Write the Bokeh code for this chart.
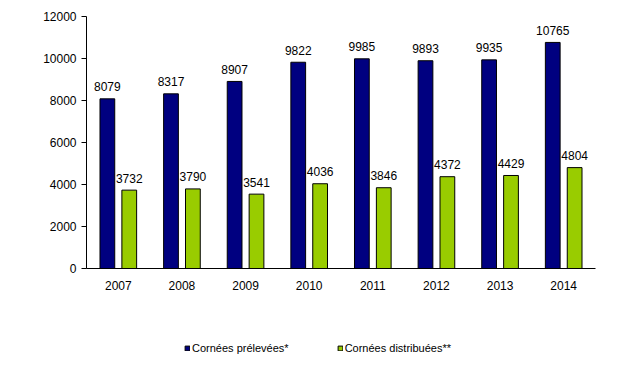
from bokeh.plotting import figure
from bokeh.models import Range1d, Label, Legend, LegendItem, ColumnDataSource
from bokeh.layouts import column
from bokeh.transform import dodge
from bokeh.core.properties import value
from bokeh.embed import file_html
from bokeh.resources import INLINE

years = ["2007", "2008", "2009", "2010", "2011", "2012", "2013", "2014"]
prelevees = [8079, 8317, 8907, 9822, 9985, 9893, 9935, 10765]
distribuees = [3732, 3790, 3541, 4036, 3846, 4372, 4429, 4804]
series_names = ["Cornées prélevées*", "Cornées distribuées**"]
y_ticks = [0, 2000, 4000, 6000, 8000, 10000, 12000]
colors = ["#000080", "#99CC00"]

src = ColumnDataSource(dict(year=years, a=prelevees, b=distribuees,
                            la=[str(v) for v in prelevees],
                            lb=[str(v) for v in distribuees]))

FONT = "Liberation Sans"

p = figure(x_range=years, y_range=Range1d(0, 12000), width=632, height=300,
           output_backend="svg", toolbar_location=None,
           min_border_left=86, min_border_right=37, min_border_top=16, min_border_bottom=32)
p.outline_line_color = None
p.xgrid.visible = False
p.ygrid.visible = False
p.x_range.range_padding = 0

off = 0.172
w = 0.232
p.vbar(x=dodge("year", -off, range=p.x_range), top="a", width=w, source=src,
       fill_color=colors[0], line_color="black", line_width=1)
p.vbar(x=dodge("year", off, range=p.x_range), top="b", width=w, source=src,
       fill_color=colors[1], line_color="black", line_width=1)

p.text(x=dodge("year", -off, range=p.x_range), y="a", text="la", source=src,
       text_align="center", text_baseline="alphabetic", y_offset=-12,
       text_font=value(FONT), text_font_size="12px", text_color="black")
p.text(x=dodge("year", off, range=p.x_range), y="b", text="lb", source=src,
       text_align="center", text_baseline="alphabetic", y_offset=-12,
       text_font=value(FONT), text_font_size="12px", text_color="black")

p.yaxis.ticker = y_ticks
p.yaxis.minor_tick_line_color = None
p.yaxis.major_tick_out = 5
p.yaxis.major_tick_in = 0
p.yaxis.major_label_text_font = FONT
p.yaxis.major_label_text_font_size = "12px"
p.yaxis.major_label_text_color = "black"
p.yaxis.axis_line_color = "black"
p.yaxis.major_tick_line_color = "black"

p.xaxis.major_tick_line_color = None
p.xaxis.major_tick_out = 0
p.xaxis.major_tick_in = 0
p.xaxis.major_label_standoff = 12
p.xaxis.major_label_text_font = FONT
p.xaxis.major_label_text_font_size = "12px"
p.xaxis.major_label_text_color = "black"
p.xaxis.axis_line_color = "black"

p.add_layout(Label(x=-56, y=6000, x_units="screen", y_units="data", text="N",
                   text_font=FONT, text_font_size="12px", text_color="black",
                   text_baseline="middle", text_align="left"))

# legend strip below the chart
lg = figure(width=632, height=90, x_range=Range1d(0, 1), y_range=Range1d(0, 1),
            output_backend="svg", toolbar_location=None,
            x_axis_type=None, y_axis_type=None, min_border=0)
lg.outline_line_color = None
lg.xgrid.visible = False
lg.ygrid.visible = False
r0 = lg.vbar(x=[0.5], top=[1], width=0.1, fill_color=colors[0], line_color="black", visible=False)
r1 = lg.vbar(x=[0.5], top=[1], width=0.1, fill_color=colors[1], line_color="black", visible=False)
legend = Legend(items=[LegendItem(label=series_names[0], renderers=[r0]),
                       LegendItem(label=series_names[1], renderers=[r1])],
                location=(98, 36), orientation="horizontal",
                glyph_width=6, glyph_height=6, label_standoff=2, spacing=48,
                label_height=12, padding=0, margin=0,
                label_text_font=FONT, label_text_font_size="11px",
                label_text_color="black",
                border_line_color=None, background_fill_alpha=0)
lg.add_layout(legend)

layout = column(p, lg, spacing=0)
open("out.html", "w").write(file_html(layout, INLINE))
